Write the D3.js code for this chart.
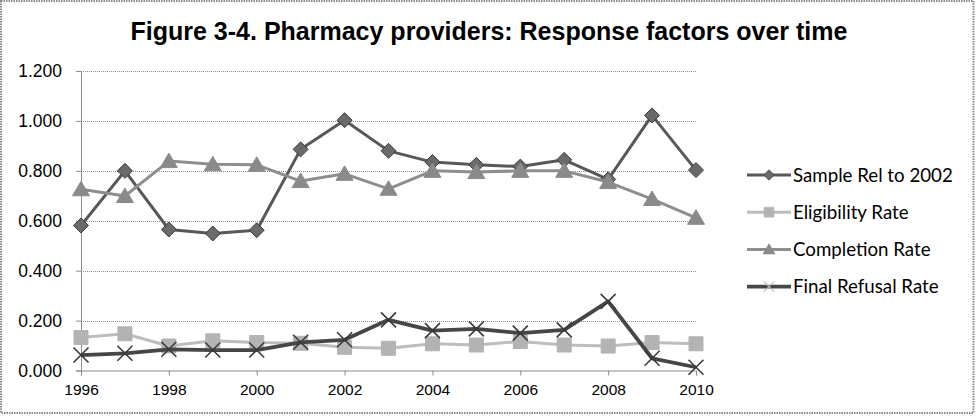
<!DOCTYPE html>
<html>
<head>
<meta charset="utf-8">
<script src="https://cdn.jsdelivr.net/npm/d3@7"></script>
<style>
body { margin:0; background:#fff; }
svg { display:block; }
</style>
</head>
<body>
<script>
var years = [1996,1997,1998,1999,2000,2001,2002,2003,2004,2005,2006,2007,2008,2009,2010];
var sampleRel   = [0.581,0.800,0.565,0.549,0.562,0.886,1.003,0.880,0.835,0.824,0.817,0.844,0.766,1.022,0.803];
var eligibility = [0.132,0.147,0.098,0.119,0.112,0.109,0.093,0.089,0.107,0.102,0.116,0.102,0.098,0.112,0.107];
var completion  = [0.726,0.699,0.839,0.826,0.824,0.759,0.788,0.728,0.800,0.795,0.800,0.800,0.755,0.687,0.612];
var refusal     = [0.062,0.069,0.085,0.082,0.082,0.113,0.123,0.203,0.160,0.167,0.150,0.163,0.277,0.049,0.013];
var yTicks = [0,0.2,0.4,0.6,0.8,1.0,1.2];
var xTicks = [1996,1998,2000,2002,2004,2006,2008,2010];

var seriesList = [
  {name:"Sample Rel to 2002", values:sampleRel,   line:"#585858", fill:"#6a6a6a", stroke:"#3c3c3c", marker:"diamond", w:3},
  {name:"Eligibility Rate",   values:eligibility, line:"#bdbdbd", fill:"#b3b3b3", stroke:"#b3b3b3", marker:"square",  w:3},
  {name:"Completion Rate",    values:completion,  line:"#8e8e8e", fill:"#8a8a8a", stroke:"#8a8a8a", marker:"triangle",w:3},
  {name:"Final Refusal Rate", values:refusal,     line:"#464646", fill:"none",    stroke:"#3a3a3a", marker:"x",       w:3.8}
];

var totalWidth = 977, totalHeight = 419;
var svg = d3.select("body").append("svg")
    .attr("width", totalWidth)
    .attr("height", totalHeight);

// frame
svg.append("rect")
    .attr("x",1).attr("y",1)
    .attr("width",972.5).attr("height",412)
    .attr("fill","#fff")
    .attr("stroke","#8a8a8a")
    .attr("stroke-width",2)
    .attr("stroke-dasharray","1.5,1");

svg.append("text")
    .attr("x", 489).attr("y", 40)
    .attr("text-anchor","middle")
    .style("font-family","'Liberation Sans', Arial, sans-serif")
    .style("font-weight","bold")
    .style("font-size","25px")
    .text("Figure 3-4. Pharmacy providers: Response factors over time");

var xScale = d3.scaleLinear().domain([1996,2010]).range([81,696]);
var yScale = d3.scaleLinear().domain([0,1.2]).range([370.5,71]);

// gridlines
svg.append("g").selectAll("line")
    .data(yTicks.filter(function(d){return d>0;}))
    .enter().append("line")
    .attr("x1",81).attr("x2",696)
    .attr("y1",function(d){return Math.round(yScale(d))+0.5;})
    .attr("y2",function(d){return Math.round(yScale(d))+0.5;})
    .attr("stroke","#8c8c8c")
    .attr("stroke-width",1)
    .attr("stroke-dasharray","1,1");

var yAxis = d3.axisLeft(yScale).tickValues(yTicks).tickSize(5).tickPadding(14)
    .tickFormat(d3.format(".3f"));
var yAxisGroup = svg.append("g").attr("transform","translate(81,0)").call(yAxis);

var xAxis = d3.axisBottom(xScale).tickValues(xTicks).tickSize(5).tickPadding(8)
    .tickFormat(d3.format("d"));
var xAxisGroup = svg.append("g").attr("transform","translate(0,370.5)").call(xAxis);

[yAxisGroup, xAxisGroup].forEach(function(g){
  g.select(".domain").attr("stroke","#8c8c8c");
  g.selectAll(".tick line").attr("stroke","#8c8c8c");
  g.selectAll("text").attr("fill","#000")
    .style("font-family","'Liberation Sans', Arial, sans-serif");
});
yAxisGroup.selectAll("text").style("font-size","17.5px");
xAxisGroup.selectAll("text").style("font-size","15.5px");

function markerPath(type){
  if(type=="diamond") return "M0,-7.5L7.5,0L0,7.5L-7.5,0Z";
  if(type=="square") return "M-7,-7H7V7H-7Z";
  if(type=="triangle") return "M0,-8L8.5,6.5H-8.5Z";
  return "M-7.5,-7.5L7.5,7.5M-7.5,7.5L7.5,-7.5";
}

var line = d3.line()
    .x(function(d,i){return xScale(years[i]);})
    .y(function(d){return yScale(d);});

seriesList.forEach(function(s){
  var g = svg.append("g");
  g.append("path")
    .attr("d", line(s.values))
    .attr("fill","none")
    .attr("stroke", s.line)
    .attr("stroke-width", s.w)
    .attr("stroke-linejoin","round");
  g.selectAll("path.m")
    .data(s.values)
    .enter().append("path")
    .attr("class","m")
    .attr("transform",function(d,i){return "translate("+xScale(years[i])+","+yScale(d)+")";})
    .attr("d", markerPath(s.marker))
    .attr("fill", s.fill)
    .attr("stroke", s.stroke)
    .attr("stroke-width", s.marker=="x" ? 1.6 : 1);
});

// legend
var legend = svg.append("g");
seriesList.forEach(function(s,i){
  var y = 175 + i*37.2;
  legend.append("line")
    .attr("x1",747).attr("x2",791)
    .attr("y1",y).attr("y2",y)
    .attr("stroke", s.line)
    .attr("stroke-width", s.w);
  legend.append("path")
    .attr("transform","translate(769,"+y+") scale(0.7)")
    .attr("d", markerPath(s.marker))
    .attr("fill", s.fill)
    .attr("stroke", s.marker=="x" ? "#bdbdbd" : s.stroke)
    .attr("stroke-width", s.marker=="x" ? 1.6 : 1);
  legend.append("text")
    .attr("x",793).attr("y",y)
    .attr("dy","0.35em")
    .style("font-family","Lato, 'Open Sans', sans-serif")
    .style("font-size","18.7px")
    .text(s.name);
});
</script>
</body>
</html>
